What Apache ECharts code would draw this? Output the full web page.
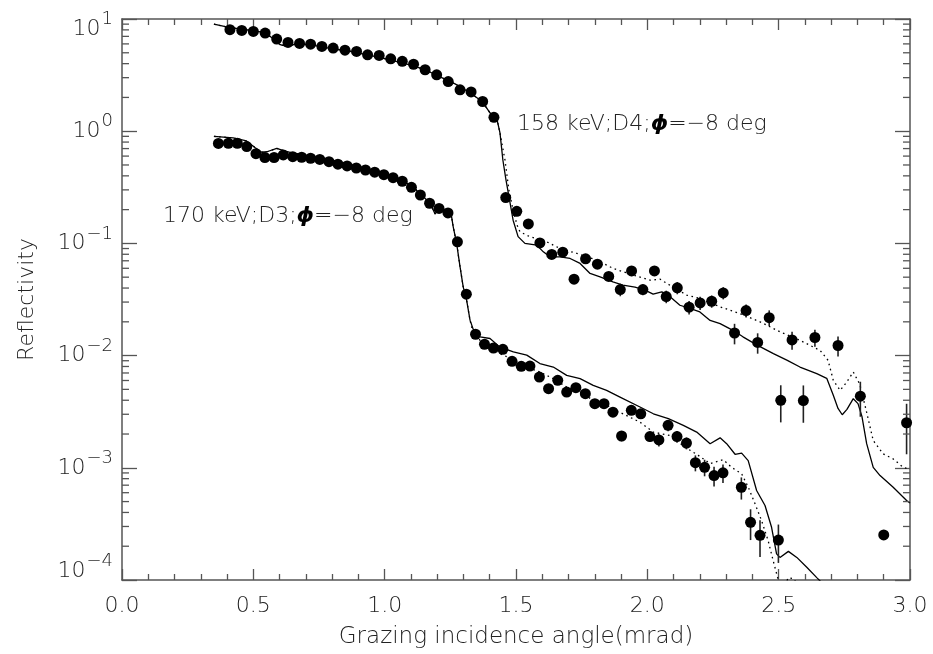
<!DOCTYPE html>
<html>
<head>
<meta charset="utf-8">
<script src="https://cdn.jsdelivr.net/npm/echarts@6/dist/echarts.min.js"></script>
<style>
html, body { margin: 0; padding: 0; background: #fff; }
#chart { width: 933px; height: 654px; }
</style>
</head>
<body>
<div id="chart"></div>
<script>
// ---- measured reflectivity, 158 keV, detector D4 ----
const upperAngle = [0.411, 0.456, 0.500, 0.545, 0.589, 0.632, 0.676, 0.718, 0.761, 0.804,
  0.849, 0.893, 0.935, 0.979, 1.023, 1.067, 1.110, 1.154, 1.198, 1.242,
  1.287, 1.329, 1.373, 1.416, 1.461, 1.503, 1.547, 1.591, 1.636, 1.678,
  1.721, 1.765, 1.810, 1.853, 1.897, 1.940, 1.983, 2.027, 2.072, 2.114,
  2.159, 2.201, 2.245, 2.289, 2.332, 2.376, 2.420, 2.464, 2.508, 2.551,
  2.594, 2.638, 2.726, 2.811, 2.900, 2.987];
const upperRefl = [8.03, 7.91, 7.75, 7.50, 6.63, 6.18, 6.06, 5.96, 5.69, 5.51,
  5.27, 5.14, 4.80, 4.73, 4.42, 4.20, 3.95, 3.53, 3.18, 2.77,
  2.34, 2.24, 1.84, 1.33, 0.256, 0.193, 0.149, 0.101, 0.0798, 0.0836,
  0.048, 0.0729, 0.0653, 0.0508, 0.0388, 0.0568, 0.0388, 0.0569, 0.0336, 0.0402,
  0.0270, 0.0295, 0.0305, 0.0362, 0.0159, 0.0252, 0.0131, 0.0218, 0.00399, 0.0138,
  0.00397, 0.0145, 0.0123, 0.00435, 0.000252, 0.00252];
const upperErr = [0, 0, 0, 0, 0, 0, 0, 0, 0, 0,
  0, 0, 0, 0, 0, 0, 0, 0, 0, 0,
  0, 0, 0, 0, 0, 0, 0, 0, 0, 0,
  0.004, 0.004, 0.004, 0.004, 0.005, 0.0057, 0.0043, 0.0057, 0.0043, 0.005,
  0.0037, 0.004, 0.0038, 0.0045, 0.0033, 0.0033, 0.0027, 0.0035, 0.00145, 0.0025,
  0.00145, 0.0025, 0.0025, 0.0015, 0, 0.0012];

// ---- measured reflectivity, 170 keV, detector D3 ----
const lowerAngle = [0.367, 0.405, 0.439, 0.475, 0.510, 0.544, 0.579, 0.614, 0.650, 0.684,
  0.718, 0.753, 0.788, 0.822, 0.857, 0.892, 0.927, 0.962, 0.997, 1.032,
  1.067, 1.102, 1.136, 1.171, 1.207, 1.241, 1.277, 1.311, 1.346, 1.380,
  1.414, 1.450, 1.485, 1.520, 1.553, 1.589, 1.624, 1.659, 1.693, 1.728,
  1.764, 1.800, 1.835, 1.869, 1.902, 1.939, 1.975, 2.010, 2.044, 2.079,
  2.113, 2.149, 2.183, 2.218, 2.254, 2.288, 2.358, 2.393, 2.429, 2.499];
const lowerRefl = [0.778, 0.781, 0.781, 0.729, 0.631, 0.583, 0.583, 0.614, 0.593, 0.586,
  0.574, 0.560, 0.535, 0.508, 0.490, 0.470, 0.451, 0.431, 0.410, 0.385,
  0.358, 0.316, 0.270, 0.228, 0.205, 0.187, 0.1033, 0.0353, 0.0155, 0.01262,
  0.01169, 0.01138, 0.00889, 0.00802, 0.00806, 0.00644, 0.00507, 0.00602, 0.00473, 0.00518,
  0.00458, 0.00373, 0.00373, 0.00313, 0.00192, 0.00325, 0.00303, 0.00190, 0.00177, 0.00239,
  0.00190, 0.00166, 0.00111, 0.00101, 0.000853, 0.000902, 0.000671, 0.000327, 0.00025, 0.000227];
const lowerErr = [0, 0, 0, 0, 0, 0, 0, 0, 0, 0,
  0, 0, 0, 0, 0, 0, 0, 0, 0, 0,
  0, 0, 0, 0, 0, 0, 0, 0, 0, 0,
  0, 0, 0, 0, 0, 0, 0, 0, 0, 0,
  0, 0, 0, 0, 0.0002, 0.00025, 0.00025, 0.0002, 0.00022, 0.00027,
  0.00023, 0.0002, 0.00018, 0.00017, 0.00017, 0.00017, 0.00015, 0.0001, 0.00009, 0.000085];

// ---- model curves, 158 keV: common part below the critical angle ----
const upperModelAngle = [0.350, 0.411, 0.487, 0.544, 0.571, 0.602, 0.628, 0.659, 0.716, 0.792,
  0.868, 0.944, 1.020, 1.096, 1.154, 1.211, 1.268, 1.325, 1.371, 1.401, 1.428, 1.439];
const upperModelRefl = [8.99, 8.36, 7.94, 7.55, 6.81, 5.90, 5.71, 5.96, 5.90, 5.48,
  5.16, 4.75, 4.33, 3.91, 3.53, 3.05, 2.64, 2.20, 1.84, 1.46, 1.26, 0.966];
// solid model beyond the edge
const upperSolidAngle = [1.450, 1.462, 1.471, 1.489, 1.508, 1.534, 1.579, 1.604, 1.629, 1.667,
  1.706, 1.744, 1.782, 1.820, 1.869, 1.907, 1.953, 1.991, 2.022, 2.055,
  2.079, 2.124, 2.162, 2.200, 2.239, 2.277, 2.326, 2.364, 2.418, 2.480,
  2.533, 2.581, 2.645, 2.683, 2.708, 2.726, 2.742, 2.760, 2.784, 2.802,
  2.817, 2.835, 2.860, 2.886, 2.936, 2.987, 3.000];
const upperSolidRefl = [0.554, 0.367, 0.279, 0.161, 0.115, 0.100, 0.0966, 0.0841, 0.0759, 0.0759,
  0.0734, 0.0663, 0.0540, 0.0504, 0.0454, 0.0424, 0.0407, 0.0383, 0.0353, 0.0370,
  0.0346, 0.0281, 0.0263, 0.0245, 0.0206, 0.0193, 0.0168, 0.0147, 0.0124, 0.0104,
  0.00908, 0.00791, 0.00690, 0.00627, 0.00443, 0.00338, 0.00297, 0.00332, 0.00413, 0.00373,
  0.00287, 0.00164, 0.00101, 0.000853, 0.000671, 0.000511, 0.000485];
// dotted model beyond the edge
const upperDotAngle = [1.458, 1.473, 1.489, 1.504, 1.515, 1.553, 1.604, 1.667, 1.731, 1.807,
  1.870, 1.947, 2.010, 2.048, 2.086, 2.150, 2.200, 2.277, 2.352, 2.429,
  2.505, 2.581, 2.658, 2.688, 2.708, 2.734, 2.759, 2.784, 2.809, 2.835,
  2.860, 2.898, 2.936, 2.974, 3.000];
const upperDotRefl = [0.554, 0.299, 0.198, 0.1457, 0.127, 0.1146, 0.107, 0.0902, 0.0815, 0.0710,
  0.0598, 0.0521, 0.0470, 0.0480, 0.0424, 0.0346, 0.0323, 0.0272, 0.0237, 0.0200,
  0.0163, 0.0137, 0.0111, 0.00908, 0.00602, 0.00490, 0.00581, 0.00714, 0.00555, 0.00312,
  0.00175, 0.00133, 0.00120, 0.00101, 0.000966];

// ---- model curves, 170 keV ----
const lowerModelAngle = [0.350, 0.423, 0.474, 0.506, 0.532, 0.552, 0.589, 0.627, 0.678, 0.754,
  0.830, 0.906, 0.982, 1.058, 1.104, 1.147, 1.173, 1.192, 1.209, 1.237,
  1.253, 1.261, 1.274, 1.287, 1.299, 1.312, 1.325];
const lowerModelRefl = [0.899, 0.871, 0.819, 0.717, 0.649, 0.656, 0.702, 0.658, 0.621, 0.578,
  0.532, 0.480, 0.429, 0.372, 0.325, 0.261, 0.228, 0.183, 0.205, 0.194,
  0.183, 0.1406, 0.100, 0.0618, 0.0410, 0.0312, 0.0207];
const lowerSolidAngle = [1.337, 1.363, 1.401, 1.439, 1.490, 1.541, 1.591, 1.642, 1.693, 1.744,
  1.794, 1.845, 1.896, 1.972, 2.023, 2.080, 2.137, 2.188, 2.239, 2.277,
  2.302, 2.334, 2.359, 2.384, 2.416, 2.448, 2.473, 2.492, 2.505, 2.537,
  2.569, 2.607, 2.645, 2.676];
const lowerSolidRefl = [0.0172, 0.0147, 0.0142, 0.0119, 0.0108, 0.0101, 0.00849, 0.00791, 0.00667, 0.00623,
  0.00543, 0.00490, 0.00427, 0.00348, 0.00303, 0.00274, 0.00239, 0.00208, 0.00164, 0.00185,
  0.00164, 0.00132, 0.00135, 0.00116, 0.000627, 0.000461, 0.000295, 0.000171, 0.000159, 0.000180,
  0.000159, 0.000130, 0.000105, 0.0000889];
const lowerDotAngle = [1.337, 1.363, 1.388, 1.439, 1.490, 1.541, 1.591, 1.642, 1.693, 1.744,
  1.794, 1.845, 1.896, 1.972, 2.023, 2.086, 2.143, 2.194, 2.239, 2.289,
  2.321, 2.359, 2.384, 2.410, 2.435, 2.460, 2.479, 2.499, 2.517, 2.537,
  2.555, 2.581];
const lowerDotRefl = [0.0158, 0.0137, 0.0124, 0.0104, 0.00921, 0.00791, 0.00714, 0.00623, 0.00525, 0.00474,
  0.00399, 0.00360, 0.00312, 0.00255, 0.00208, 0.00194, 0.00153, 0.00129, 0.00109, 0.00118,
  0.00101, 0.000883, 0.000675, 0.000478, 0.000338, 0.000224, 0.000149, 0.000099, 0.000085, 0.000105,
  0.000103, 0.000087];

// ---- axes ----
const yDecades = [-4, -3, -2, -1, 0, 1];
const xName = 'Grazing incidence angle(mrad)';
const yName = 'Reflectivity';

// ---- annotations: [angle, reflectivity] of label anchor (left, middle) ----
const upperLabel = { at: [1.504, 1.16], text: ['158 keV;D4;', 'ϕ', '=−8 deg'] };
const lowerLabel = { at: [0.156, 0.175], text: ['170 keV;D3;', 'ϕ', '=−8 deg'] };

const FONT = '"DejaVu Sans ExtraLight", "DejaVu Sans Light", "DejaVu Sans"';
const INK = '#222';
const AXIS = '#555';

const zip = (a, b) => a.map((v, i) => [v, b[i]]);
const zip3 = (a, b, c) => a.map((v, i) => [v, b[i], c[i]]);

const chart = echarts.init(document.getElementById('chart'), null, { renderer: 'canvas' });

const minorTickValues = [];
for (let d = yDecades[0]; d < yDecades[yDecades.length - 1]; d++) {
  for (let m = 2; m <= 9; m++) minorTickValues.push([0, m * Math.pow(10, d)]);
}

const xAxisCommon = {
  type: 'value', min: 0, max: 3, interval: 0.5,
  axisLine: { show: true, onZero: false, lineStyle: { color: AXIS, width: 1.5 } },
  axisTick: { show: true, inside: true, length: 11, lineStyle: { color: AXIS, width: 1.3 } },
  minorTick: { show: true, splitNumber: 5, length: 6, lineStyle: { color: AXIS, width: 1.3 } },
  splitLine: { show: false }, minorSplitLine: { show: false }
};
const yAxisCommon = {
  type: 'log', logBase: 10, min: 1e-4, max: 10,
  axisLine: { show: true, onZero: false, lineStyle: { color: AXIS, width: 1.5 } },
  axisTick: { show: true, inside: true, length: 15, lineStyle: { color: AXIS, width: 1.3 } },
  minorTick: { show: false },
  axisLabel: { show: false },
  splitLine: { show: false }, minorSplitLine: { show: false }
};

const lineSeries = (data, dotted) => ({
  type: 'line', data, showSymbol: false, symbol: 'none', smooth: false, clip: true,
  silent: true, z: 3,
  lineStyle: { color: '#000', width: 1.3, type: dotted ? [1.6, 3.6] : 'solid' }
});

const errSeries = data => ({
  type: 'custom', data, silent: true, z: 4,
  encode: { x: 0, y: 1 },
  renderItem: (params, api) => {
    const x = api.value(0), y = api.value(1), s = api.value(2);
    if (!s) return null;
    const cs = params.coordSys;
    const top = api.coord([x, y + s]);
    const bot = api.coord([x, Math.max(y - s, 1e-9)]);
    const y1 = Math.max(top[1], cs.y), y2 = Math.min(bot[1], cs.y + cs.height);
    return { type: 'line', shape: { x1: top[0], y1, x2: top[0], y2 },
             style: { stroke: '#222', lineWidth: 1.6 } };
  }
});

const dotSeries = data => ({
  type: 'scatter', data, symbol: 'circle', symbolSize: 11, silent: true, z: 5,
  itemStyle: { color: '#000', opacity: 1 }
});

chart.setOption({
  animation: false,
  backgroundColor: '#fff',
  grid: { left: 122, right: 23, top: 19, bottom: 74, containLabel: false, outerBoundsMode: 'none' },
  xAxis: [
    Object.assign({}, xAxisCommon, {
      position: 'bottom',
      name: xName, nameLocation: 'middle', nameGap: 46,
      nameTextStyle: { fontFamily: FONT, fontSize: 23, color: INK },
      axisLabel: { show: true, margin: 15, fontFamily: FONT, fontSize: 22, color: INK,
                   formatter: v => v.toFixed(1), showMinLabel: true, showMaxLabel: true }
    }),
    Object.assign({}, xAxisCommon, { position: 'top', axisLabel: { show: false } })
  ],
  yAxis: [
    Object.assign({}, yAxisCommon, {
      position: 'left',
      name: yName, nameLocation: 'middle', nameGap: 84, nameRotate: 90,
      nameTextStyle: { fontFamily: FONT, fontSize: 22, color: INK }
    }),
    Object.assign({}, yAxisCommon, { position: 'right' })
  ],
  series: [
    lineSeries(zip(upperModelAngle.concat(upperSolidAngle), upperModelRefl.concat(upperSolidRefl)), false),
    lineSeries(zip(upperModelAngle.concat(upperDotAngle), upperModelRefl.concat(upperDotRefl)), true),
    lineSeries(zip(lowerModelAngle.concat(lowerSolidAngle), lowerModelRefl.concat(lowerSolidRefl)), false),
    lineSeries(zip(lowerModelAngle.concat(lowerDotAngle), lowerModelRefl.concat(lowerDotRefl)), true),
    errSeries(zip3(upperAngle, upperRefl, upperErr)),
    errSeries(zip3(lowerAngle, lowerRefl, lowerErr)),
    dotSeries(zip(upperAngle, upperRefl)),
    dotSeries(zip(lowerAngle, lowerRefl)),
    {
      // minor ticks of the logarithmic axis, on both vertical edges
      type: 'custom', data: minorTickValues, silent: true, z: 6, clip: false,
      encode: { x: 0, y: 1 },
      renderItem: (params, api) => {
        const cs = params.coordSys;
        const p = api.coord([0, api.value(1)]);
        const st = { stroke: AXIS, lineWidth: 1.3 };
        return { type: 'group', children: [
          { type: 'line', shape: { x1: cs.x, y1: p[1], x2: cs.x + 7, y2: p[1] }, style: st },
          { type: 'line', shape: { x1: cs.x + cs.width, y1: p[1], x2: cs.x + cs.width - 7, y2: p[1] }, style: st }
        ] };
      }
    }
  ]
});

// ---- decade labels 10^n, placed at the log axis' own tick positions ----
const measure = document.createElement('canvas').getContext('2d');
const textWidth = (t, size) => { measure.font = size + 'px ' + FONT; return measure.measureText(t).width; };
const supText = e => (e < 0 ? '−' + (-e) : String(e));
const axisX = chart.convertToPixel({ xAxisIndex: 0 }, 0);
const labelRight = axisX - 9;
const decadeGraphics = [];
yDecades.forEach((e, i) => {
  const ty = chart.convertToPixel({ yAxisIndex: 0 }, Math.pow(10, e));
  // the end labels are pulled inside the frame
  const shift = i === 0 ? -9 : (i === yDecades.length - 1 ? 10 : 0);
  const sup = supText(e);
  const supW = textWidth(sup, 18);
  decadeGraphics.push({
    type: 'text', x: labelRight, y: ty + shift - 9.5, silent: true,
    style: { text: sup, align: 'right', verticalAlign: 'middle', fontFamily: FONT, fontSize: 18, fill: INK }
  });
  decadeGraphics.push({
    type: 'text', x: labelRight - supW - 1, y: ty + shift, silent: true,
    style: { text: '10', align: 'right', verticalAlign: 'middle', fontFamily: FONT, fontSize: 22, fill: INK }
  });
});

// annotation labels placed through the grid's coordinate conversion
const labelGraphic = lab => {
  const p = chart.convertToPixel({ gridIndex: 0 }, lab.at);
  return {
    type: 'text', x: p[0], y: p[1], silent: true, z: 10,
    style: {
      text: '{n|' + lab.text[0] + '}{p|' + lab.text[1] + '}{n|' + lab.text[2] + '}',
      verticalAlign: 'middle', align: 'left',
      rich: {
        n: { fontFamily: FONT, fontSize: 22, fill: INK },
        p: { fontFamily: '"DejaVu Sans"', fontSize: 22, fill: '#000', fontWeight: 'bold', fontStyle: 'italic' }
      }
    }
  };
};
chart.setOption({ graphic: decadeGraphics.concat([labelGraphic(upperLabel), labelGraphic(lowerLabel)]) });
</script>
</body>
</html>
